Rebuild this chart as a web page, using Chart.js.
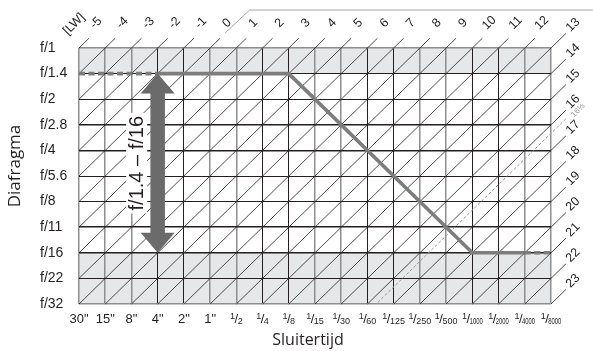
<!DOCTYPE html>
<html><head><meta charset="utf-8">
<script src="https://cdn.jsdelivr.net/npm/chart.js@4"></script>
<style>html,body{margin:0;padding:0;background:#fff;}</style>
</head><body>
<canvas id="c" width="593" height="351"></canvas>
<script>
// ---------- data ----------
const shutterLabels = ['30"','15"','8"','4"','2"','1"','1/2','1/4','1/8','1/15','1/30','1/60','1/125','1/250','1/500','1/1000','1/2000','1/4000','1/8000'];
const apertureLabels = ['f/1','f/1.4','f/2','f/2.8','f/4','f/5.6','f/8','f/11','f/16','f/22','f/32'];
const evValues = [-5,-4,-3,-2,-1,0,1,2,3,4,5,6,7,8,9,10,11,12,13,14,15,16,17,18,19,20,21,22,23];
const evAxisLabel = '[LW]';
const shadedBands = [['f/1','f/1.4'],['f/16','f/32']];
const programShutter = ['30"','4"','1/8','1/1000','1/4000','1/8000'];
const programAperture = ['f/1.4','f/1.4','f/1.4','f/16','f/16','f/16'];
const programDashed = [true,false,false,false,true];
const arrowShutter = '4"';
const arrowRange = ['f/1.4','f/16'];
const rangeLabel = 'f/1.4 – f/16';
const limitEV = 16 + 1/3;
const limitLabel = '16⅓';
const xTitle = 'Sluitertijd';
const yTitle = 'Diafragma';

// ---------- helpers ----------
const LS = '"Liberation Sans", Arial, "DejaVu Sans", sans-serif';
const OS = '"Open Sans", "Noto Sans", sans-serif';
const nCols = shutterLabels.length - 1;
const nRows = apertureLabels.length - 1;
const X = s => shutterLabels.indexOf(s);
const Y = a => apertureLabels.indexOf(a);
const ev0 = evValues[0];
function upper(k){ return k <= nCols ? {x:k, y:0} : {x:nCols, y:k-nCols}; }
function lower(k){ return k <= nRows ? {x:0, y:k} : {x:k-nRows, y:nRows}; }
const EXT_TOP = 0.38, EXT_RIGHT = 0.57;
function diagData(ev){
  const k = ev - ev0;
  const u = upper(k), l = lower(k);
  const d = k < nCols ? EXT_TOP : EXT_RIGHT;
  return [{x:u.x + d, y:u.y - d}, u, l];
}

const datasets = [];
// program line: one dataset per run of equally styled segments
const progPts = programShutter.map((s,i)=>({x:X(s), y:Y(programAperture[i])}));
let runStart = 0;
for (let i = 1; i <= programDashed.length; i++){
  if (i === programDashed.length || programDashed[i] !== programDashed[runStart]){
    const dashed = programDashed[runStart];
    datasets.push({
      data: progPts.slice(runStart, i + 1),
      borderColor:'#7d7d7d', borderWidth:3.6, pointRadius:0, clip:false,
      borderCapStyle:'butt', borderJoinStyle:'miter',
      borderDash: dashed ? [6,3.5] : []
    });
    runStart = i;
  }
}
datasets.push({
  data: diagData(limitEV), borderColor:'#9a9a9a', borderWidth:1, borderDash:[3,2], pointRadius:0, clip:false
});
evValues.forEach(ev => datasets.push({
  data: diagData(ev), borderColor:'#231f20', borderWidth:0.8, pointRadius:0, clip:false
}));

const GREY = '#8e8e8e', BLACK = '#231f20';
function vStyle(c){ if (c===0||c===nCols) return [GREY,1.5]; return (c%4===1||c%4===2) ? [GREY,1.5] : [BLACK,1]; }
function hStyle(r){ if (r===0||r===nRows) return [GREY,1.5]; return (r%4===3||r%4===0) ? [BLACK,1.6] : [BLACK,1]; }

function drawShutter(ctx, label, x, y){
  ctx.fillStyle = BLACK;
  if (label.indexOf('/') < 0){
    ctx.font = '13px ' + LS; ctx.textAlign = 'center'; ctx.textBaseline = 'alphabetic';
    ctx.fillText(label, x, y); return;
  }
  const [num, den] = label.split('/');
  ctx.textAlign = 'left'; ctx.textBaseline = 'alphabetic';
  ctx.font = '9px ' + LS; const wn = ctx.measureText(num).width;
  ctx.font = '13px ' + LS; const ws = ctx.measureText('/').width;
  ctx.font = '9px ' + LS; let wd = ctx.measureText(den).width;
  const maxD = den.length >= 4 ? 13 : wd;
  wd = Math.min(wd, maxD);
  const tot = wn + ws + wd - 1;
  let sx = x - tot/2;
  ctx.font = '9px ' + LS; ctx.fillText(num, sx, y - 4);
  sx += wn - 0.5;
  ctx.font = '13px ' + LS; ctx.fillText('/', sx, y);
  sx += ws - 0.5;
  ctx.font = '9px ' + LS; ctx.fillText(den, sx, y + 0.5, maxD);
}

function rotText(ctx, txt, cx, cy, font, color){
  ctx.save(); ctx.translate(cx, cy); ctx.rotate(-Math.PI/4);
  ctx.font = font; ctx.fillStyle = color; ctx.textAlign = 'center'; ctx.textBaseline = 'middle';
  ctx.fillText(txt, 0, 0); ctx.restore();
}

const decor = {
  id:'decor',
  beforeDraw(chart){
    const {ctx, scales:{x, y}} = chart;
    ctx.save(); ctx.fillStyle = '#e6e7e8';
    shadedBands.forEach(([a,b]) => {
      const y0 = y.getPixelForValue(Y(a)), y1 = y.getPixelForValue(Y(b));
      ctx.fillRect(x.left, Math.min(y0,y1), x.right - x.left, Math.abs(y1-y0));
    });
    ctx.restore();
  },
  afterDatasetsDraw(chart){
    const {ctx, scales:{x, y}} = chart;
    ctx.save();
    const ax = x.getPixelForValue(X(arrowShutter));
    const yT = y.getPixelForValue(Y(arrowRange[0])), yB = y.getPixelForValue(Y(arrowRange[1]));
    ctx.save();
    ctx.translate(ax - 14.5, (yT + yB)/2);
    ctx.rotate(-Math.PI/2);
    ctx.font = '20px ' + LS;
    const tw = ctx.measureText(rangeLabel).width;
    ctx.fillStyle = '#fff';
    ctx.fillRect(-tw/2 - 3, -17, tw + 6, 21);
    ctx.fillStyle = BLACK; ctx.textAlign = 'center'; ctx.textBaseline = 'alphabetic';
    ctx.fillText(rangeLabel, 0, 0);
    ctx.restore();
    const hl = 20, hw = 34, sw = 14.5;
    ctx.fillStyle = '#6b6b6b';
    ctx.beginPath();
    ctx.moveTo(ax, yT);
    ctx.lineTo(ax + hw/2, yT + hl); ctx.lineTo(ax + sw/2, yT + hl);
    ctx.lineTo(ax + sw/2, yB - hl); ctx.lineTo(ax + hw/2, yB - hl);
    ctx.lineTo(ax, yB);
    ctx.lineTo(ax - hw/2, yB - hl); ctx.lineTo(ax - sw/2, yB - hl);
    ctx.lineTo(ax - sw/2, yT + hl); ctx.lineTo(ax - hw/2, yT + hl);
    ctx.closePath(); ctx.fill();
    ctx.restore();
  },
  afterDraw(chart){
    const {ctx, scales:{x, y}} = chart;
    ctx.save();
    shutterLabels.forEach((s,i) => drawShutter(ctx, s, x.getPixelForValue(i), y.bottom + 19));
    evValues.forEach(ev => {
      const k = ev - ev0, u = upper(k);
      const px = x.getPixelForValue(u.x), py = y.getPixelForValue(u.y);
      if (k < nCols) rotText(ctx, String(ev), px + 17, py - 25, '12.5px ' + LS, BLACK);
      else rotText(ctx, String(ev), px + 22, py - 23, '12.5px ' + LS, BLACK);
    });
    rotText(ctx, evAxisLabel, x.left - 5, y.top - 24, '12.5px ' + LS, BLACK);
    const lu = upper(limitEV - ev0);
    rotText(ctx, limitLabel, x.getPixelForValue(lu.x) + 27, y.getPixelForValue(lu.y) - 23, '8px ' + LS, '#9a9a9a');
    const z = upper(0 - ev0);
    const zx = x.getPixelForValue(z.x), zy = y.getPixelForValue(z.y);
    ctx.strokeStyle = '#a6a6a6'; ctx.lineWidth = 1;
    ctx.beginPath();
    ctx.moveTo(zx + 15, zy - 15);
    const topY = 10;
    ctx.lineTo(zx + (zy - topY) * 1.04, topY);
    ctx.lineTo(chart.width, topY);
    ctx.stroke();
    ctx.fillStyle = BLACK; ctx.textAlign = 'center'; ctx.textBaseline = 'alphabetic';
    ctx.font = '16px ' + OS;
    ctx.fillText(xTitle, (x.left + x.right)/2 - 7, chart.height - 6);
    ctx.save(); ctx.translate(20, (y.top + y.bottom)/2 - 10); ctx.rotate(-Math.PI/2);
    ctx.font = '17px ' + OS; ctx.fillText(yTitle, 0, 0); ctx.restore();
    ctx.restore();
  }
};

new Chart(document.getElementById('c'), {
  type:'line',
  data:{ datasets },
  plugins:[decor],
  options:{
    responsive:false, animation:false, devicePixelRatio:1,
    layout:{ padding:{ left:40, top:48, right:42, bottom:0 } },
    plugins:{ legend:{display:false}, tooltip:{enabled:false} },
    events:[],
    scales:{
      x:{ type:'linear', position:'bottom', min:0, max:nCols,
        ticks:{ stepSize:1, autoSkip:false, maxRotation:0, callback:()=>'', font:{size:1} },
        grid:{ drawTicks:false, color:c=>vStyle(c.tick.value)[0], lineWidth:c=>vStyle(c.tick.value)[1] },
        border:{ display:false },
        afterFit:s=>{ s.height = 47; } },
      y:{ type:'linear', position:'left', min:0, max:nRows, reverse:true,
        ticks:{ stepSize:1, autoSkip:false, crossAlign:'far', padding:12, color:BLACK,
          font:{ family:LS, size:14 }, callback:v=>apertureLabels[v] },
        grid:{ drawTicks:false, color:c=>hStyle(c.tick.value)[0], lineWidth:c=>hStyle(c.tick.value)[1] },
        border:{ display:false },
        afterFit:s=>{ s.width = 39; } }
    }
  }
});
</script>
</body></html>
